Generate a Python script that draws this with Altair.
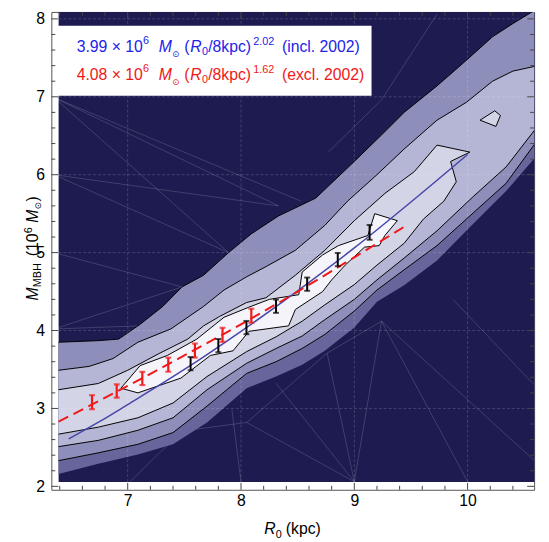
import altair as alt
import pandas as pd

FONT = "Liberation Sans"
W, H = 490, 485
X_DOM = [6.326, 10.587]
Y_DOM = [1.956, 8.089]

NAVY = "#1d1b50"
COL_A = "#66669c"
COL_B = "#8e8ebb"
COL_C = "#b5b5d5"
COL_D = "#d4d4e7"
COL_E = "#f4f4fa"

# extent of the shaded likelihood map
BG_R = [6.39, 10.59]
BG_M = [2.057, 8.09]

# contour boundaries (R0 in kpc, M in 1e6 Msun)
U1_R = [6.39, 6.74, 6.92, 7.11, 7.31, 7.48, 7.67, 7.89, 8.09, 8.33, 8.66, 9.00, 9.24, 9.44, 9.73, 9.99, 10.22, 10.40, 10.57, 10.74]
U1_M = [3.85, 3.87, 3.89, 4.08, 4.31, 4.56, 4.71, 5.00, 5.24, 5.47, 5.70, 6.17, 6.51, 6.80, 7.14, 7.47, 7.77, 7.94, 8.09, 8.25]

LOW_R = [6.39, 6.74, 7.09, 7.40, 7.70, 8.05, 8.31, 8.54, 8.74, 9.00, 9.20, 9.44, 9.73, 10.05, 10.34, 10.59, 10.74]
L0_M = [2.16, 2.29, 2.41, 2.54, 2.82, 3.26, 3.41, 3.56, 3.74, 4.04, 4.37, 4.58, 4.90, 5.37, 5.79, 6.21, 6.42]
L1_M = [2.33, 2.43, 2.54, 2.69, 3.03, 3.45, 3.60, 3.77, 3.95, 4.25, 4.52, 4.78, 5.09, 5.51, 5.89, 6.39, 6.57]
L2_M = [2.51, 2.59, 2.72, 2.88, 3.24, 3.58, 3.77, 3.93, 4.14, 4.40, 4.65, 4.93, 5.28, 5.72, 6.10, 6.57, 6.73]

U2_R = [6.39, 6.66, 6.87, 7.09, 7.38, 7.67, 7.85, 8.05, 8.22, 8.48, 8.74, 8.94, 9.20, 9.44, 9.73, 9.99, 10.22, 10.40, 10.59, 10.74]
U2_M = [3.49, 3.54, 3.64, 3.85, 4.02, 4.31, 4.52, 4.69, 4.82, 5.03, 5.35, 5.66, 6.00, 6.33, 6.70, 6.93, 7.20, 7.33, 7.39, 7.49]

D_R = [6.39, 6.74, 7.00, 7.27, 7.53, 7.67, 7.81, 8.05, 8.22, 8.48, 8.74, 9.00, 9.27, 9.53, 9.73, 10.02,
       9.85, 9.90, 9.79, 9.61, 9.44, 9.20, 9.00, 8.74, 8.54, 8.31, 8.05, 7.70, 7.40, 7.09, 6.74, 6.39]
D_M = [3.24, 3.32, 3.49, 3.70, 3.89, 4.06, 4.18, 4.36, 4.42, 4.71, 5.03, 5.41, 5.76, 6.04, 6.38, 6.29,
       6.17, 5.91, 5.66, 5.43, 5.12, 4.84, 4.59, 4.33, 4.12, 3.92, 3.73, 3.41, 3.07, 2.88, 2.76, 2.67]

ISL_R = [10.11, 10.24, 10.29, 10.25, 10.11]
ISL_M = [6.70, 6.82, 6.76, 6.62, 6.70]

E_R = [6.94, 7.11, 7.35, 7.61, 7.85, 8.07, 8.25, 8.51, 8.54, 8.72, 8.86, 9.12, 9.18, 9.38,
       9.27, 9.22, 9.09, 8.92, 8.80, 8.72, 8.48, 8.42, 8.07, 7.93, 7.73, 7.55, 7.47, 7.09, 6.94]
E_M = [3.26, 3.55, 3.68, 3.89, 4.17, 4.30, 4.40, 4.46, 4.75, 4.97, 5.09, 5.22, 5.50, 5.41,
       5.22, 5.09, 5.07, 4.84, 4.65, 4.50, 4.27, 4.06, 3.99, 3.74, 3.68, 3.48, 3.39, 3.20, 3.26]

# faint triangulation mesh visible on the dark background (segment end points)
MESH_R1 = [6.35, 6.35, 6.35, 6.35, 6.35, 6.35, 6.35, 9.24, 9.24, 9.24, 8.76, 8.76, 8.31, 8.05, 8.05, 7.02, 7.92, 7.48, 9.87, 9.24, 8.77, 6.35]
MESH_M1 = [6.99, 6.99, 6.00, 6.00, 5.00, 4.02, 4.02, 4.12, 4.12, 4.12, 3.71, 3.71, 3.32, 2.82, 2.82, 2.06, 2.98, 2.71, 4.40, 6.96, 6.29, 6.99]
MESH_R2 = [8.33, 7.89, 8.33, 7.89, 7.48, 7.11, 7.48, 9.00, 10.00, 10.59, 9.00, 9.24, 9.00, 9.00, 8.76, 7.48, 8.00, 8.05, 10.59, 9.73, 9.24, 8.53]
MESH_M2 = [5.60, 5.00, 5.60, 5.00, 4.56, 4.06, 4.56, 2.06, 2.06, 2.33, 2.06, 4.12, 2.06, 2.06, 3.71, 2.71, 2.06, 2.82, 3.30, 8.06, 6.96, 5.66]

# fitted relations
BLUE_R = [6.48, 6.75, 7.0, 7.5, 8.0, 8.5, 9.0, 9.5, 10.0]
BLUE_M = [2.61, 2.83, 3.05, 3.50, 3.99, 4.51, 5.06, 5.65, 6.26]
RED_R = [6.39, 6.75, 7.0, 7.5, 8.0, 8.5, 9.0, 9.45]
RED_M = [2.83, 3.10, 3.29, 3.68, 4.08, 4.50, 4.94, 5.34]

# binned points with error bars
RED_PR = [6.685, 6.903, 7.129, 7.358, 7.593, 7.837, 8.091]
RED_PM = [3.08, 3.224, 3.385, 3.562, 3.743, 3.945, 4.19]
RED_PE = [0.09, 0.085, 0.085, 0.09, 0.09, 0.09, 0.09]
BLK_PR = [7.555, 7.80, 8.048, 8.309, 8.584, 8.854, 9.135]
BLK_PM = [3.575, 3.806, 4.038, 4.312, 4.595, 4.911, 5.26]
BLK_PE = [0.085, 0.085, 0.085, 0.085, 0.085, 0.085, 0.095]

X_MAJOR = [7, 8, 9, 10]
X_MINOR = [6.4, 6.6, 6.8, 7.2, 7.4, 7.6, 7.8, 8.2, 8.4, 8.6, 8.8, 9.2, 9.4, 9.6, 9.8, 10.2, 10.4]
Y_MAJOR = [2, 3, 4, 5, 6, 7, 8]
Y_MINOR = [2.2, 2.4, 2.6, 2.8, 3.2, 3.4, 3.6, 3.8, 4.2, 4.4, 4.6, 4.8, 5.2, 5.4, 5.6, 5.8,
           6.2, 6.4, 6.6, 6.8, 7.2, 7.4, 7.6, 7.8]

xs = alt.Scale(domain=X_DOM, nice=False, zero=False)
ys = alt.Scale(domain=Y_DOM, nice=False, zero=False)
AX_X = alt.Axis(values=X_MAJOR, format="d", labelFont=FONT, labelFontSize=16, labelColor="#000",
                ticks=False, tickSize=0, domain=False, grid=False, title=None, labelPadding=3)
AX_Y = alt.Axis(values=Y_MAJOR, format="d", labelFont=FONT, labelFontSize=16, labelColor="#000",
                ticks=False, tickSize=0, domain=False, grid=False, title=None, labelPadding=7)


def X(f="R"):
    return alt.X(f"{f}:Q", scale=xs, axis=AX_X)


def Y(f="M"):
    return alt.Y(f"{f}:Q", scale=ys, axis=AX_Y)


def pdf(R, M):
    return pd.DataFrame({"R": R, "M": M, "o": list(range(len(R)))})


def poly(R, M, color):
    return alt.Chart(pdf(R, M)).mark_line(fill=color, strokeOpacity=0, clip=True).encode(
        x=X(), y=Y(), order=alt.Order("o:Q"))


def cline(R, M, width=1.0):
    return alt.Chart(pdf(R, M)).mark_line(color="#000", strokeWidth=width, clip=True).encode(
        x=X(), y=Y(), order=alt.Order("o:Q"))


layers = []
bg = pd.DataFrame({"r1": [BG_R[0]], "r2": [BG_R[1]], "m1": [BG_M[0]], "m2": [BG_M[1]]})
layers.append(alt.Chart(bg).mark_rect(color=NAVY).encode(x=X("r1"), x2="r2:Q", y=Y("m1"), y2="m2:Q"))

mesh = pd.DataFrame({"r1": MESH_R1, "m1": MESH_M1, "r2": MESH_R2, "m2": MESH_M2})
layers.append(alt.Chart(mesh).mark_rule(color="#ffffff", opacity=0.2, strokeWidth=0.8, clip=True).encode(
    x=X("r1"), y=Y("m1"), x2="r2:Q", y2="m2:Q"))

# filled contour levels
layers.append(poly(U1_R + LOW_R[::-1], U1_M + L0_M[::-1], COL_A))
layers.append(poly(U1_R + LOW_R[::-1], U1_M + L1_M[::-1], COL_B))
layers.append(poly(U2_R + LOW_R[::-1], U2_M + L2_M[::-1], COL_C))
layers.append(poly(D_R, D_M, COL_D))
layers.append(poly(ISL_R, ISL_M, COL_D))
layers.append(poly(E_R, E_M, COL_E))

# faint grid lines
vg = pd.DataFrame({"R": [7, 8, 9, 10], "m1": BG_M[0], "m2": BG_M[1]})
hg = pd.DataFrame({"M": [3, 4, 5, 6, 7, 8], "r1": BG_R[0], "r2": BG_R[1]})
layers.append(alt.Chart(vg).mark_rule(color="#ffffff", opacity=0.22, strokeWidth=0.8, strokeDash=[3, 2]).encode(
    x=X(), y=Y("m1"), y2="m2:Q"))
layers.append(alt.Chart(hg).mark_rule(color="#ffffff", opacity=0.22, strokeWidth=0.8, strokeDash=[3, 2]).encode(
    y=Y(), x=X("r1"), x2="r2:Q"))

# contour lines
layers.append(cline(U1_R, U1_M))
layers.append(cline(LOW_R, L1_M))
layers.append(cline(U2_R, U2_M))
layers.append(cline(LOW_R, L2_M))
layers.append(cline(D_R, D_M))
layers.append(cline(ISL_R, ISL_M))
layers.append(cline(E_R, E_M))

# fit lines
layers.append(alt.Chart(pdf(BLUE_R, BLUE_M)).mark_line(color="#4646aa", strokeWidth=1.5, interpolate="monotone").encode(
    x=X(), y=Y(), order=alt.Order("o:Q")))
layers.append(alt.Chart(pdf(RED_R, RED_M)).mark_line(color="#f01818", strokeWidth=2, strokeDash=[11, 6],
                                                    interpolate="monotone").encode(
    x=X(), y=Y(), order=alt.Order("o:Q")))


def errbars(R, M, E, color, width):
    df = pd.DataFrame({"R": R, "M": M, "lo": [m - e for m, e in zip(M, E)], "hi": [m + e for m, e in zip(M, E)]})
    base = alt.Chart(df)
    return [
        base.mark_rule(color=color, strokeWidth=width).encode(x=X(), y=Y("lo"), y2="hi:Q"),
        base.mark_tick(color=color, orient="horizontal", size=6, thickness=width).encode(x=X(), y=Y("lo")),
        base.mark_tick(color=color, orient="horizontal", size=6, thickness=width).encode(x=X(), y=Y("hi")),
    ]


layers += errbars(RED_PR, RED_PM, RED_PE, "#f01818", 2.2)
layers += errbars(BLK_PR, BLK_PM, BLK_PE, "#000000", 2.0)


# frame ticks (pointing inward)
def ticks(vals, length, axis):
    df = pd.DataFrame({"v": vals})
    c = alt.Chart(df).mark_rule(color="#444", strokeWidth=1)
    if axis == "x":
        return [c.encode(x=X("v"), y=alt.value(H), y2=alt.value(H - length)),
                c.encode(x=X("v"), y=alt.value(0), y2=alt.value(length))]
    return [c.encode(y=Y("v"), x=alt.value(0), x2=alt.value(length)),
            c.encode(y=Y("v"), x=alt.value(W), x2=alt.value(W - length))]


layers += ticks(X_MAJOR, 7, "x") + ticks(X_MINOR, 4, "x")
layers += ticks(Y_MAJOR, 7, "y") + ticks(Y_MINOR, 4, "y")

# legend box
one = pd.DataFrame({"a": [0]})
layers.append(alt.Chart(one).mark_rect(color="#ffffff").encode(
    x=alt.value(5), x2=alt.value(325), y=alt.value(14), y2=alt.value(85)))


def txt(x, y, s, size, color, italic=False, angle=0, font=FONT):
    props = dict(align="left", baseline="alphabetic", font=font, fontSize=size, color=color)
    if italic:
        props["fontStyle"] = "italic"
    if angle:
        props["angle"] = angle
    return alt.Chart(one).mark_text(**props).encode(x=alt.value(x), y=alt.value(y), text=alt.value(s))


LEG = [("3.99 × 10", "2.02", "(incl. 2002)", "#2323e8", 40.3),
       ("4.08 × 10", "1.62", "(excl. 2002)", "#f01818", 68.7)]
for pre, expo, note, col, yb in LEG:
    layers += [
        txt(25.7, yb, pre, 16, col),
        txt(93, yb - 7.6, "6", 11, col),
        txt(109, yb, "M", 16, col, italic=True),
        txt(122.5, yb + 5, "⊙", 9, col, font="DejaVu Sans"),
        txt(135, yb, "(", 16, col),
        txt(141, yb, "R", 16, col, italic=True),
        txt(152.8, yb + 3.4, "0", 11, col),
        txt(159.2, yb, "/8kpc)", 16, col),
        txt(205, yb - 6.6, expo, 11, col),
        txt(234, yb, note, 16, col),
    ]

# x axis title
layers += [txt(216, 530, "R", 16, "#000", italic=True),
           txt(227.8, 534, "0", 11, "#000"),
           txt(238, 530, "(kpc)", 16, "#000")]

# y axis title (rotated)
yb = -14
layers += [
    txt(yb, 293, "M", 16, "#000", italic=True, angle=270),
    txt(yb + 4, 279.5, "MBH", 11, "#000", angle=270),
    txt(yb, 248, "(10", 16, "#000", angle=270),
    txt(yb - 6, 224.7, "6", 11, "#000", angle=270),
    txt(yb, 214, "M", 16, "#000", italic=True, angle=270),
    txt(yb + 4, 200.5, "⊙", 9, "#000", angle=270, font="DejaVu Sans"),
    txt(yb, 192.5, ")", 16, "#000", angle=270),
]

chart = alt.layer(*layers).properties(
    width=W, height=H,
    autosize=alt.AutoSizeParams(type="none"),
    padding={"left": 44, "top": 0, "right": 7, "bottom": 50},
    background="white",
).configure_view(stroke="#555", strokeWidth=1)

chart.save("out.html", embed_options={"renderer": "svg", "actions": False})
